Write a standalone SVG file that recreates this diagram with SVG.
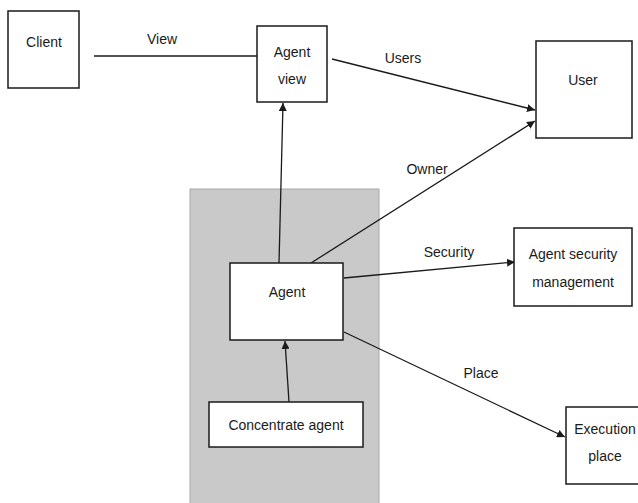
<svg xmlns="http://www.w3.org/2000/svg" width="638" height="503" viewBox="0 0 638 503">
  <style>
    .box { fill: #ffffff; stroke: #1a1a1a; stroke-width: 1.5; }
    .lbl { font-family: "Liberation Sans", Arial, sans-serif; font-size: 14px; fill: #1a1a1a; text-anchor: middle; }
    .edge { stroke: #1a1a1a; stroke-width: 1.3; fill: none; }
  </style>
  <defs>
    <marker id="arrow" viewBox="0 0 10 10" refX="10" refY="5" markerWidth="8" markerHeight="8" markerUnits="userSpaceOnUse" orient="auto">
      <path d="M0,0 L10,5 L0,10 z" fill="#1a1a1a"/>
    </marker>
  </defs>
  <rect width="638" height="503" fill="#ffffff"/>

  <!-- shaded region behind the agent -->
  <rect id="agent-region" x="190" y="189" width="189" height="320" fill="#c9c9c9" stroke="#a8a8a8" stroke-width="1"/>

  <g id="connectors">
    <line class="edge" x1="94" y1="56" x2="257" y2="56"/>
    <text class="lbl" x="162" y="44">View</text>
    <line class="edge" x1="332" y1="59" x2="535" y2="110" marker-end="url(#arrow)"/>
    <text class="lbl" x="403" y="63">Users</text>
    <line class="edge" x1="279" y1="263" x2="283" y2="103" marker-end="url(#arrow)"/>
    <line class="edge" x1="311" y1="263" x2="535" y2="121" marker-end="url(#arrow)"/>
    <text class="lbl" x="427" y="174">Owner</text>
    <line class="edge" x1="344" y1="278" x2="515" y2="262" marker-end="url(#arrow)"/>
    <text class="lbl" x="449" y="257">Security</text>
    <line class="edge" x1="344" y1="332" x2="565" y2="437" marker-end="url(#arrow)"/>
    <text class="lbl" x="481" y="378">Place</text>
    <line class="edge" x1="289" y1="402" x2="285" y2="341" marker-end="url(#arrow)"/>
  </g>

  <g id="client">
    <rect class="box" x="8" y="11" width="71" height="77"/>
    <text class="lbl" x="44" y="47">Client</text>
  </g>
  <g id="agent-view">
    <rect class="box" x="257" y="26" width="70" height="76"/>
    <text class="lbl" x="292" y="57">Agent</text>
    <text class="lbl" x="292" y="84">view</text>
  </g>
  <g id="user">
    <rect class="box" x="536" y="41" width="96" height="97"/>
    <text class="lbl" x="583" y="85">User</text>
  </g>
  <g id="agent">
    <rect class="box" x="230" y="263" width="113" height="77"/>
    <text class="lbl" x="287" y="297">Agent</text>
  </g>
  <g id="agent-security-management">
    <rect class="box" x="514" y="228" width="118" height="78"/>
    <text class="lbl" x="573" y="259">Agent security</text>
    <text class="lbl" x="573" y="287">management</text>
  </g>
  <g id="concentrate-agent">
    <rect class="box" x="209" y="402" width="154" height="45"/>
    <text class="lbl" x="286" y="430">Concentrate agent</text>
  </g>
  <g id="execution-place">
    <rect class="box" x="566" y="407" width="80" height="77"/>
    <text class="lbl" x="605" y="434">Execution</text>
    <text class="lbl" x="605" y="461">place</text>
  </g>
</svg>
